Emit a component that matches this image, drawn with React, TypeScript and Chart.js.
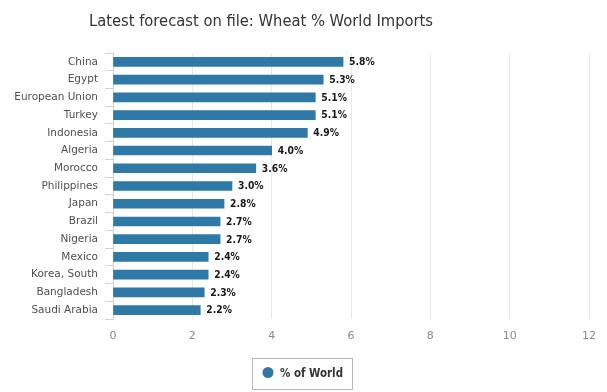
import React, { useEffect, useRef } from "react";
import { Chart, registerables } from "chart.js";

Chart.register(...registerables);

const categories = [
  "China",
  "Egypt",
  "European Union",
  "Turkey",
  "Indonesia",
  "Algeria",
  "Morocco",
  "Philippines",
  "Japan",
  "Brazil",
  "Nigeria",
  "Mexico",
  "Korea, South",
  "Bangladesh",
  "Saudi Arabia",
];
const worldShare = [5.8, 5.3, 5.1, 5.1, 4.9, 4.0, 3.6, 3.0, 2.8, 2.7, 2.7, 2.4, 2.4, 2.3, 2.2];
const seriesName = "% of World";
const titleText = "Latest forecast on file: Wheat % World Imports";
const xMin = 0;
const xMax = 12;
const xStep = 2;

const BAR_COLOR = "#2e79a5";
const FONT = "'DejaVu Sans', sans-serif";

function drawFitted(ctx: CanvasRenderingContext2D, text: string, x: number, y: number, width: number) {
  const w = ctx.measureText(text).width;
  const s = width / w;
  ctx.save();
  ctx.translate(x, y);
  ctx.scale(s, 1);
  ctx.fillText(text, 0, 0);
  ctx.restore();
}

const decorPlugin = {
  id: "decor",
  afterDatasetsDraw(chart: any) {
    const ctx: CanvasRenderingContext2D = chart.ctx;
    const meta = chart.getDatasetMeta(0);
    ctx.save();
    ctx.font = `bold 11px ${FONT}`;
    ctx.fillStyle = "#1a1a1a";
    ctx.textAlign = "left";
    ctx.textBaseline = "middle";
    meta.data.forEach((bar: any, i: number) => {
      const label = worldShare[i].toFixed(1) + "%";
      const w = ctx.measureText(label).width * 0.84;
      drawFitted(ctx, label, bar.x + 6, bar.y + 0.5, w);
    });
    ctx.restore();
  },
  afterDraw(chart: any) {
    const ctx: CanvasRenderingContext2D = chart.ctx;
    ctx.save();
    // title
    ctx.font = `16px ${FONT}`;
    ctx.fillStyle = "#333333";
    ctx.textBaseline = "alphabetic";
    ctx.textAlign = "left";
    drawFitted(ctx, titleText, 89, 26, 344);
    // legend box
    ctx.strokeStyle = "#b8b8b8";
    ctx.lineWidth = 1;
    ctx.strokeRect(252.5, 358.5, 100, 31);
    ctx.fillStyle = BAR_COLOR;
    ctx.beginPath();
    ctx.arc(268, 372.5, 5.5, 0, Math.PI * 2);
    ctx.fill();
    ctx.font = `bold 12px ${FONT}`;
    ctx.fillStyle = "#333333";
    drawFitted(ctx, seriesName, 280, 377, 63);
    ctx.restore();
  },
};

export default function App() {
  const ref = useRef<HTMLCanvasElement | null>(null);
  useEffect(() => {
    if (!ref.current) return;
    const chart = new Chart(ref.current, {
      type: "bar",
      data: {
        labels: categories,
        datasets: [
          {
            label: seriesName,
            data: worldShare,
            backgroundColor: BAR_COLOR,
            borderWidth: 0,
            barThickness: 9,
          },
        ],
      },
      options: {
        indexAxis: "y",
        responsive: false,
        animation: false,
        layout: { padding: { left: 0, right: 15, top: 53, bottom: 43 } },
        plugins: {
          legend: { display: false },
          title: { display: false },
          tooltip: { enabled: false },
        },
        scales: {
          x: {
            min: xMin,
            max: xMax,
            position: "bottom",
            afterFit(scale: any) {
              scale.height = 30;
            },
            ticks: {
              stepSize: xStep,
              color: "#8a8a8a",
              font: { family: FONT, size: 11 },
              padding: 11,
            },
            grid: {
              color: "#e8e8e8",
              drawTicks: false,
            },
            border: { display: false },
          },
          y: {
            afterFit(scale: any) {
              scale.width = 113;
            },
            ticks: {
              color: "#505050",
              font: { family: FONT, size: 10.5 },
              padding: 7,
            },
            grid: {
              offset: true,
              drawOnChartArea: false,
              drawTicks: true,
              tickLength: 8,
              tickColor: "#c8d4e0",
            },
            border: { display: true, color: "#c8d4e0", width: 1 },
          },
        },
      },
      plugins: [decorPlugin],
    });
    return () => chart.destroy();
  }, []);
  return (
    <div style={{ position: "absolute", left: 0, top: 0, width: 607, height: 392, background: "#fff" }}>
      <canvas ref={ref} width={607} height={392} />
    </div>
  );
}
